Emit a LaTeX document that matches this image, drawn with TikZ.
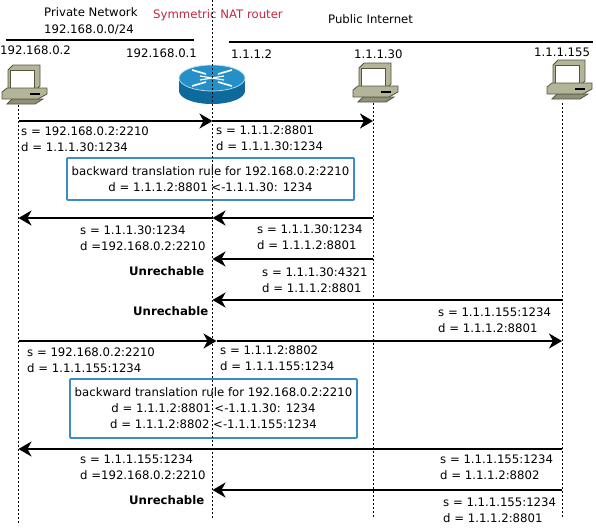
\documentclass[tikz,border=0pt]{standalone}
\usepackage{fontspec}
\setmainfont{DejaVu Sans}
\usepackage{xcolor}
\usetikzlibrary{arrows.meta,positioning,calc}
\definecolor{natred}{HTML}{C4273F}
\definecolor{rulebox}{HTML}{3C8DC5}
\definecolor{pcbody}{HTML}{B4B499}
\definecolor{pcedge}{HTML}{55553F}
\definecolor{routertop}{HTML}{2490C8}
\definecolor{routerside}{HTML}{0F6A9C}

\begin{document}
\begin{tikzpicture}[
  x=1pt, y=-1pt,
  every node/.style={font=\fontsize{11.7}{16}\selectfont, inner sep=0pt},
  addr/.style={anchor=west, align=left},
  iplabel/.style={anchor=west},
  fail/.style={anchor=west, font=\fontsize{11.7}{16}\selectfont\bfseries},
  rulenode/.style={rectangle, rounded corners=1pt, draw=rulebox, line width=1.8pt,
    minimum width=287pt, align=center},
  msg/.style={-{Stealth[length=13pt, width=15pt, inset=4pt]}, line width=2pt},
  life/.style={line width=0.8pt, dash pattern=on 2pt off 2pt},
  netline/.style={line width=1.6pt},
  pics/computer/.style={code={
    \draw[pcedge, fill=pcbody, line width=0.8pt] (8,6) -- (13,1) -- (40,1) -- (40,22) -- (35,27) -- (8,27) -- cycle;
    \draw[pcedge, fill=white, line width=1pt] (10,6) rectangle (34,24);
    \draw[pcedge, fill=pcbody!80!black, line width=0.8pt] (7,40) -- (35,40) -- (43,35) -- (12,35) -- cycle;
    \draw[pcedge, fill=pcbody, line width=0.8pt] (2,28) -- (7,24) -- (40,24) -- (47,24) -- (47,30) -- (38,35) -- (2,35) -- cycle;
    \fill[black] (30,29) rectangle (40,31);
  }},
]
\useasboundingbox (0,0) rectangle (596,531);

% Lifeline ends
\coordinate (hostTop) at (18.5,105);
\coordinate (hostEnd) at (18.5,525);
\coordinate (natTop) at (212.5,0);
\coordinate (natEnd) at (212.5,518);
\coordinate (srvTop) at (373,103);
\coordinate (srvEnd) at (373,518);
\coordinate (farTop) at (562,103);
\coordinate (farEnd) at (562,518);

% Network rules
\coordinate (privL) at (6,40);
\coordinate (privR) at (194,40);
\coordinate (pubL) at (229,42);
\coordinate (pubR) at (593,42);
\draw[netline] (privL) -- (privR);
\draw[netline] (pubL) -- (pubR);

% Hosts
\pic at (0,64) {computer};
\pic at (351,62) {computer};
\pic at (545,59) {computer};

% Router
\fill[routerside] (212,91) ellipse[x radius=33, y radius=13];
\fill[routerside] (179,78) rectangle (245,91);
\draw[white!70!routertop, fill=routertop, line width=0.7pt] (212,78) ellipse[x radius=33, y radius=13];
\draw[white, line width=1.6pt] (192,70) -- (206,74) (218,82) -- (232,86) (232,70) -- (218,74) (206,82) -- (192,86);
\draw[white, line width=1.2pt] (200,76) -- (224,80) (224,76) -- (200,80);

% Headers
\node[addr] (privname) at (44,12.5) {Private Network};
\node[addr, below=7pt of privname.south west, anchor=north west] (privnet) {192.168.0.0/24};
\node[addr, text=natred] (natname) at (153,15) {Symmetric NAT router};
\node[addr] (pubname) at (328,19) {Public Internet};
\node[iplabel] (ipA) at (0,50) {192.168.0.2};
\node[iplabel] (ipB) at (126,53) {192.168.0.1};
\node[iplabel] (ipC) at (231,54) {1.1.1.2};
\node[iplabel] (ipD) at (354,54) {1.1.1.30};
\node[iplabel] (ipE) at (534,52) {1.1.1.155};

% Translation rules
\node[rulenode, minimum height=42pt] (ruleA) at (210.5,179) {backward translation rule for 192.168.0.2:2210\\d = 1.1.1.2:8801 <-1.1.1.30: 1234};
\node[rulenode, minimum height=59pt] (ruleB) at (213.5,408.5) {backward translation rule for 192.168.0.2:2210\\d = 1.1.1.2:8801 <-1.1.1.30: 1234\\d = 1.1.1.2:8802 <-1.1.1.155:1234};

% Lifelines
\draw[life] (hostTop) -- (hostEnd);
\draw[life] (natTop) -- (natEnd);
\draw[life] (srvTop) -- (srvEnd);
\draw[life] (farTop) -- (farEnd);

% Message ends
\foreach \n/\y in {a/121, b/218, c/259, d/300, e/341, f/449, g/490} {
  \coordinate (host\n) at (hostTop |- 0,\y);
  \coordinate (nat\n) at (natTop |- 0,\y);
  \coordinate (srv\n) at (srvTop |- 0,\y);
  \coordinate (far\n) at (farTop |- 0,\y);
}
\coordinate (nate2) at ($(nate)+(4,0)$);

% Arrows
\draw[msg] (hosta) -- (nata);
\draw[msg] (nata) -- (srva);
\draw[msg] (srvb) -- (natb);
\draw[msg] (natb) -- (hostb);
\draw[msg] (srvc) -- (natc);
\draw[msg] (fard) -- (natd);
\draw[msg] (hoste) -- (nate2);
\draw[msg] (nate2) -- (fare);
\draw[msg] (farf) -- (hostf);
\draw[msg] (farg) -- (natg);

% Packet headers
\node[addr] (pktA) at (21,139) {s = 192.168.0.2:2210\\d = 1.1.1.30:1234};
\node[addr] (pktB) at (216,138) {s = 1.1.1.2:8801\\d = 1.1.1.30:1234};
\node[addr] (pktC) at (80,238) {s = 1.1.1.30:1234\\d =192.168.0.2:2210};
\node[addr] (pktD) at (257,237.5) {s = 1.1.1.30:1234\\d = 1.1.1.2:8801};
\node[addr] (pktE) at (262,280) {s = 1.1.1.30:4321\\d = 1.1.1.2:8801};
\node[addr] (pktF) at (438,320) {s = 1.1.1.155:1234\\d = 1.1.1.2:8801};
\node[addr] (pktG) at (27,360) {s = 192.168.0.2:2210\\d = 1.1.1.155:1234};
\node[addr] (pktH) at (220,358) {s = 1.1.1.2:8802\\d = 1.1.1.155:1234};
\node[addr] (pktI) at (80,467) {s = 1.1.1.155:1234\\d =192.168.0.2:2210};
\node[addr] (pktJ) at (440,467) {s = 1.1.1.155:1234\\d = 1.1.1.2:8802};
\node[addr] (pktK) at (443,510) {s = 1.1.1.155:1234\\d = 1.1.1.2:8801};

% Dropped packets
\node[fail] (dropA) at (129,271) {Unrechable};
\node[fail] (dropB) at (133,311) {Unrechable};
\node[fail] (dropC) at (129,500) {Unrechable};
\end{tikzpicture}
\end{document}
